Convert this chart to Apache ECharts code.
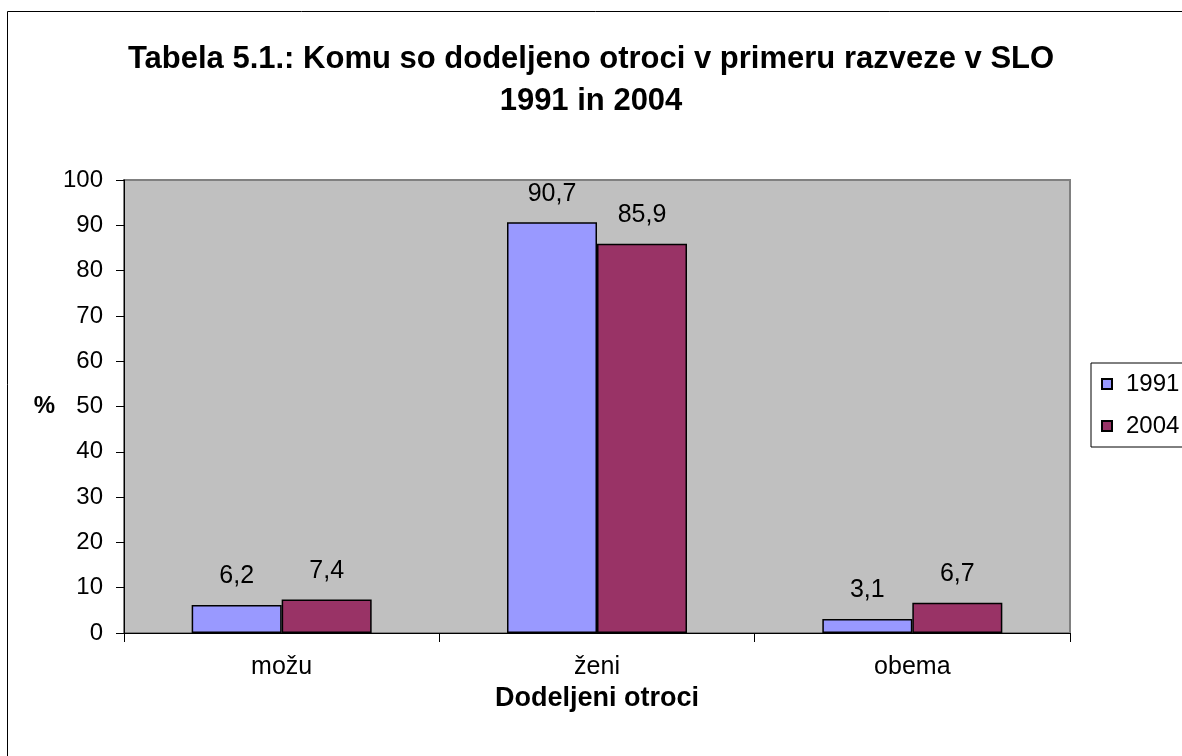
<!DOCTYPE html>
<html>
<head>
<meta charset="utf-8">
<script src="https://cdn.jsdelivr.net/npm/echarts@6/dist/echarts.min.js"></script>
<style>html,body{margin:0;padding:0;background:#fff;}#c{width:1182px;height:756px;}</style>
</head>
<body>
<div id="c"></div>
<script>
const categories = ['možu', 'ženi', 'obema'];
const values1991 = [6.2, 90.7, 3.1];
const values2004 = [7.4, 85.9, 6.7];
const seriesNames = ['1991', '2004'];
const titleText = 'Tabela 5.1.: Komu so dodeljeno otroci v primeru razveze v SLO\n1991 in 2004';
const xTitle = 'Dodeljeni otroci';
const yTitle = '%';

const FONT = 'Liberation Sans, Arial, sans-serif';
const chart = echarts.init(document.getElementById('c'), null, {renderer: 'canvas'});
const fmt = p => String(p.value).replace('.', ',');
chart.setOption({
  animation: false,
  textStyle: {fontFamily: FONT},
  graphic: [{
    type: 'rect', shape: {x: 7.5, y: 11.5, width: 1200, height: 800},
    style: {fill: 'none', stroke: '#000', lineWidth: 1}, z: -10
  }],
  title: {
    text: titleText, left: 'center', top: 33,
    textStyle: {fontFamily: FONT, fontSize: 31, fontWeight: 'bold', color: '#000', lineHeight: 42}
  },
  legend: {
    orient: 'vertical', left: 1091, top: 363,
    padding: [9, 30, 9, 10], itemGap: 18,
    itemWidth: 10, itemHeight: 10,
    borderColor: '#000', borderWidth: 1, backgroundColor: '#fff',
    textStyle: {fontFamily: FONT, fontSize: 24, color: '#000', padding: [0, 0, 0, 9]},
    data: seriesNames.map(n => ({name: n, icon: 'rect'}))
  },
  grid: {left: 124, top: 180, width: 946, height: 453, show: true, backgroundColor: '#C0C0C0', borderColor: '#808080', borderWidth: 2},
  xAxis: {
    type: 'category', data: categories,
    name: xTitle, nameLocation: 'middle', nameGap: 40,
    nameTextStyle: {fontFamily: FONT, fontSize: 27, fontWeight: 'bold', color: '#000'},
    axisLine: {lineStyle: {color: '#000', width: 1}},
    axisTick: {show: true, length: 9, lineStyle: {color: '#000'}},
    axisLabel: {fontFamily: FONT, fontSize: 25, color: '#000', margin: 22}
  },
  yAxis: {
    type: 'value', min: 0, max: 100, interval: 10,
    name: yTitle, nameLocation: 'middle', nameGap: 69, nameRotate: 0,
    nameTextStyle: {fontFamily: FONT, fontSize: 24, fontWeight: 'bold', color: '#000'},
    axisLine: {show: true, lineStyle: {color: '#000', width: 1}},
    axisTick: {show: true, length: 8, lineStyle: {color: '#000'}},
    axisLabel: {fontFamily: FONT, fontSize: 24, color: '#000', margin: 21},
    splitLine: {show: false}
  },
  series: [
    {name: seriesNames[0], type: 'bar', data: values1991, barWidth: 90, barGap: '0%',
     itemStyle: {color: '#9999FF', borderColor: '#000', borderWidth: 1.5},
     label: {show: true, position: 'top', distance: 16, formatter: fmt, fontFamily: FONT, fontSize: 25, color: '#000'}},
    {name: seriesNames[1], type: 'bar', data: values2004, barWidth: 90, barGap: '0%',
     itemStyle: {color: '#993366', borderColor: '#000', borderWidth: 1.5},
     label: {show: true, position: 'top', distance: 16, formatter: fmt, fontFamily: FONT, fontSize: 25, color: '#000'}}
  ]
});
</script>
</body>
</html>
